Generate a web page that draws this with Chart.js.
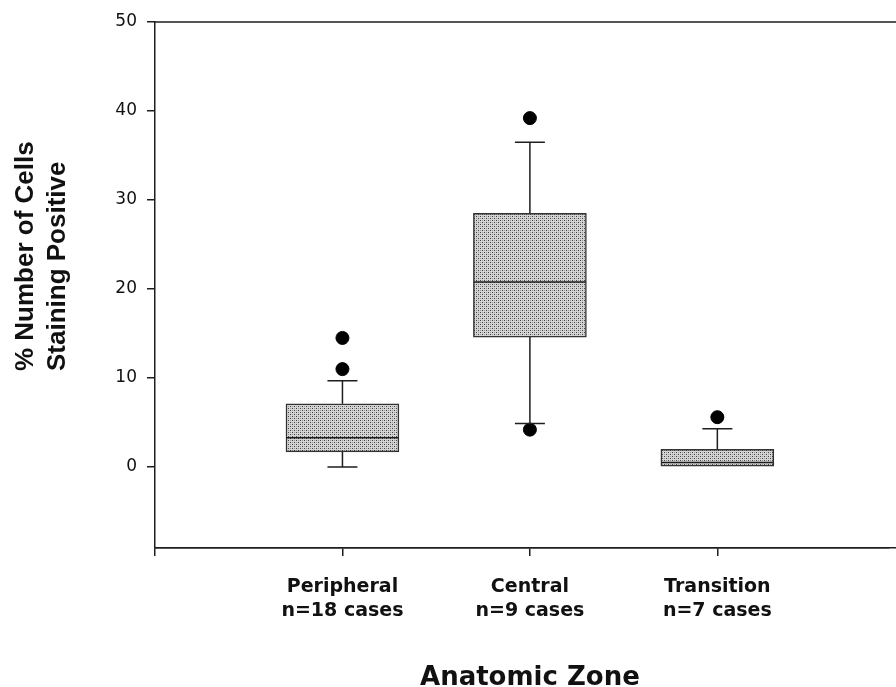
<!DOCTYPE html>
<html>
<head>
<meta charset="utf-8">
<script src="https://cdn.jsdelivr.net/npm/chart.js@4.4.1/dist/chart.umd.min.js"></script>
<style>
  html, body { margin: 0; padding: 0; background: #fff; }
  #wrap { width: 896px; height: 687px; }
</style>
</head>
<body>
<div id="wrap"><canvas id="boxChart"></canvas></div>
<script>
// Box plot values
const categories = ['Peripheral', 'Central', 'Transition'];
const caseCounts = ['n=18 cases', 'n=9 cases', 'n=7 cases'];
const whiskerLow = [0, 4.9, 0];
const q1 = [1.7, 14.6, 0];
const median = [3.3, 20.8, 0.5];
const q3 = [7.1, 28.5, 2.0];
const whiskerHigh = [9.7, 36.5, 4.3];
const outliers = [[11.0, 14.5], [4.2, 39.2], [5.6]];
const yTicks = [0, 10, 20, 30, 40, 50];
const xTicks = [0, 1, 2, 3];

const axisColor = '#1e1e1e';

// stippled grey fill like the printed figure
function stipple() {
  const c = document.createElement('canvas');
  c.width = 4; c.height = 4;
  const g = c.getContext('2d');
  g.fillStyle = '#d4d4d4';
  g.fillRect(0, 0, 4, 4);
  g.fillStyle = '#444';
  g.fillRect(0, 0, 1, 1);
  g.fillRect(2, 2, 1, 1);
  g.fillStyle = '#999';
  g.fillRect(2, 0, 1, 1);
  g.fillRect(0, 2, 1, 1);
  return g.createPattern(c, 'repeat');
}

const boxData = categories.map((c, i) => ({ x: i + 1, y: [q1[i], q3[i]] }));
const outlierData = [];
outliers.forEach((list, i) => list.forEach(v => outlierData.push({ x: i + 1, y: v })));

// whiskers, caps, medians, frame lines and axis titles
const boxExtras = {
  id: 'boxExtras',
  afterDatasetsDraw(chart) {
    const { ctx, chartArea, scales: { x, y } } = chart;
    ctx.save();
    ctx.strokeStyle = axisColor;
    ctx.lineWidth = 1.5;
    categories.forEach((c, i) => {
      const px = x.getPixelForValue(i + 1);
      const half = 56;
      const cap = 15;
      ctx.beginPath();
      // median
      const pm = y.getPixelForValue(median[i]);
      ctx.moveTo(px - half, pm); ctx.lineTo(px + half, pm);
      // upper whisker
      if (whiskerHigh[i] > q3[i]) {
        const ph = y.getPixelForValue(whiskerHigh[i]);
        ctx.moveTo(px, y.getPixelForValue(q3[i])); ctx.lineTo(px, ph);
        ctx.moveTo(px - cap, ph); ctx.lineTo(px + cap, ph);
      }
      // lower whisker
      if (whiskerLow[i] < q1[i]) {
        const pl = y.getPixelForValue(whiskerLow[i]);
        ctx.moveTo(px, y.getPixelForValue(q1[i])); ctx.lineTo(px, pl);
        ctx.moveTo(px - cap, pl); ctx.lineTo(px + cap, pl);
      }
      ctx.stroke();
    });
    // top frame line, bottom axis runs off the page (same pixel alignment as Chart.js border)
    const yb = Math.round(x.top - 0.75) + 0.75;
    ctx.beginPath();
    ctx.moveTo(chartArea.left, chartArea.top);
    ctx.lineTo(chart.width, chartArea.top);
    ctx.moveTo(chartArea.left, yb);
    ctx.lineTo(chart.width, yb);
    ctx.stroke();

    ctx.fillStyle = '#111';
    // y axis title, two lines
    ctx.font = 'bold 26px "Liberation Sans", Arial, sans-serif';
    ctx.textAlign = 'left';
    ctx.textBaseline = 'alphabetic';
    [['% Number of Cells', 33], ['Staining Positive', 65]].forEach(([t, bx]) => {
      ctx.save();
      ctx.translate(bx, 371);
      ctx.rotate(-Math.PI / 2);
      ctx.fillText(t, 0, 0);
      ctx.restore();
    });
    // x axis title
    ctx.font = 'bold 26px "DejaVu Sans", sans-serif';
    ctx.textAlign = 'center';
    ctx.fillText('Anatomic Zone', x.getPixelForValue(2), 685);
    ctx.restore();
  }
};

new Chart(document.getElementById('boxChart'), {
  data: {
    datasets: [
      {
        type: 'bar',
        data: boxData,
        backgroundColor: stipple(),
        borderColor: '#333',
        borderWidth: 1.5,
        borderSkipped: false,
        barThickness: 113
      },
      {
        type: 'scatter',
        data: outlierData,
        backgroundColor: '#000',
        borderColor: '#000',
        pointRadius: 6.5,
        pointHoverRadius: 6.5
      }
    ]
  },
  options: {
    responsive: true,
    maintainAspectRatio: false,
    animation: false,
    layout: { padding: { top: 22, right: 0, left: 0, bottom: 0 } },
    plugins: { legend: { display: false }, tooltip: { enabled: false } },
    scales: {
      x: {
        type: 'linear',
        min: 0,
        max: 3.913,
        offset: false,
        afterBuildTicks: s => { s.ticks = xTicks.map(v => ({ value: v })); },
        afterFit: s => { s.height = 139; },
        grid: { offset: false, drawOnChartArea: false, color: axisColor, lineWidth: 1.5, tickLength: 8 },
        border: { color: axisColor, width: 1.5 },
        ticks: {
          autoSkip: false,
          maxRotation: 0,
          padding: 19,
          color: '#111',
          font: { family: '"DejaVu Sans", sans-serif', size: 19, weight: 'bold', lineHeight: 1.26 },
          callback: v => (v >= 1 && v <= categories.length) ? [categories[v - 1], caseCounts[v - 1]] : ''
        }
      },
      y: {
        min: -9.1,
        max: 50,
        afterBuildTicks: s => { s.ticks = yTicks.map(v => ({ value: v })); },
        afterFit: s => { s.width = 155; },
        grid: { drawOnChartArea: false, color: axisColor, lineWidth: 1.5, tickLength: 8 },
        border: { color: axisColor, width: 1.5 },
        ticks: {
          padding: 10,
          color: '#111',
          font: { family: '"DejaVu Sans", sans-serif', size: 17 }
        }
      }
    }
  },
  plugins: [boxExtras]
});
</script>
</body>
</html>
